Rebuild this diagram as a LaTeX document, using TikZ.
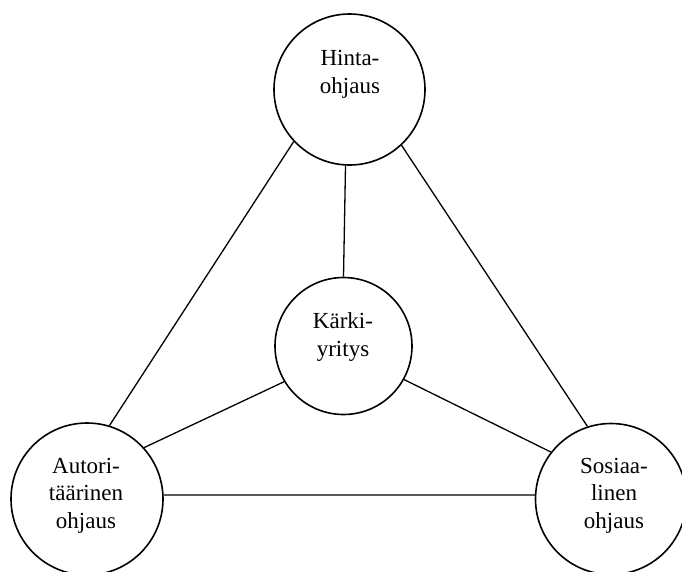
\documentclass[tikz,border=0pt]{standalone}
\usepackage{fontspec}
\setmainfont{Liberation Serif}
\begin{document}
\begin{tikzpicture}[x=1pt,y=-1pt,
  circ/.style={circle,draw,line width=1.6pt,inner sep=0pt},
  conn/.style={line width=1.3pt},
  txt/.style={align=center,inner sep=0pt,font=\fontsize{23}{27.5}\selectfont}]
\useasboundingbox (0,0) rectangle (682,571);
\clip (0,0) rectangle (682,571);
\node[circ,minimum size=151pt] (hinta) at (349.5,89.5) {};
\node[circ,minimum size=137pt] (karki) at (343.5,346) {};
\node[circ,minimum size=152pt] (aut) at (87,499) {};
\node[circ,minimum size=151pt] (sos) at (611,499) {};
\node[txt] (hintaT) at (350,74.5) {Hinta-\\ohjaus};
\node[txt] (karkiT) at (343,337) {Kärki-\\yritys};
\node[txt] (autT) at (86,495.5) {Autori-\\täärinen\\ohjaus};
\node[txt] (sosT) at (614,495.5) {Sosiaa-\\linen\\ohjaus};
\draw[conn] (hinta.267) -- (karki.90);
\draw[conn] (hinta.223) -- (aut.73);
\draw[conn] (hinta.313) -- (sos.108);
\draw[conn] (aut.42) -- (karki.211);
\draw[conn] (karki.331) -- (sos.142);
\draw[conn] (aut.3) -- (sos.177);
\end{tikzpicture}
\end{document}
